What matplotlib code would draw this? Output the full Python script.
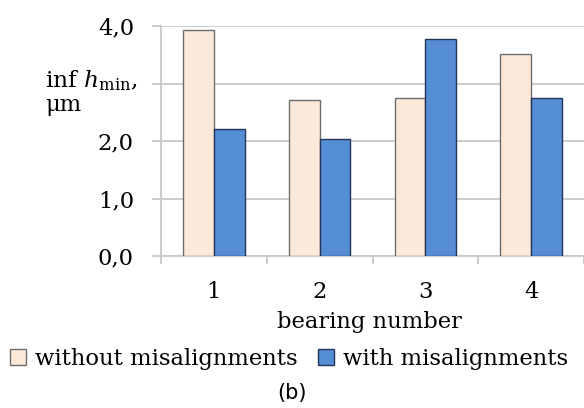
import numpy as np
import matplotlib.pyplot as plt
from matplotlib.patches import Patch

# bearing numbers and min film thickness values, um
bearings = ['1', '2', '3', '4']
without_mis = [3.93, 2.71, 2.75, 3.52]
with_mis = [2.21, 2.03, 3.77, 2.74]
yticks = [0.0, 1.0, 2.0, 3.0, 4.0]
ytick_labels = ['0,0', '1,0', '2,0', '', '4,0']

plt.rcParams['font.family'] = 'DejaVu Serif'
plt.rcParams['mathtext.fontset'] = 'dejavuserif'

fs = 16.3
fig = plt.figure(figsize=(5.84, 4.08), dpi=100)
ax = fig.add_axes([161 / 584, 152 / 408, 423 / 584, 230 / 408])

x = np.arange(len(bearings))
w = 0.29
ax.bar(x - w / 2, without_mis, w, color='#fde9d9', edgecolor='#6e6e6e', linewidth=1, zorder=3)
ax.bar(x + w / 2, with_mis, w, color='#558ed5', edgecolor='#24345a', linewidth=1, zorder=3)

ax.set_xlim(-0.5, len(bearings) - 0.5)
ax.set_ylim(0, 4)
ax.set_yticks(yticks)
ax.set_yticklabels(ytick_labels, fontsize=fs)
ax.yaxis.grid(True, color='#c8c8c8', linewidth=1.3, zorder=0)
ax.tick_params(axis='y', length=6.5, color='#c8c8c8', width=1.3, pad=13)

# category ticks sit between the groups
ax.set_xticks(np.arange(len(bearings) + 1) - 0.5)
ax.set_xticklabels([])
ax.set_xticks(x, minor=True)
ax.set_xticklabels(bearings, minor=True, fontsize=fs)
ax.tick_params(axis='x', which='major', length=6, color='#c8c8c8', width=1.3)
ax.tick_params(axis='x', which='minor', length=0, pad=18)

for s in ['top', 'right']:
    ax.spines[s].set_visible(False)
ax.spines['left'].set_color('#c8c8c8')
ax.spines['bottom'].set_color('#c8c8c8')
ax.spines['left'].set_linewidth(1.3)
ax.spines['bottom'].set_linewidth(1.3)

fig.text(45 / 584, 1 - 87 / 408, r'inf $h_{\mathrm{min}}$,', fontsize=fs + 0.5, va='baseline', ha='left')
fig.text(45 / 584, 1 - 111 / 408, 'μm', fontsize=fs, va='baseline', ha='left')
fig.text(369 / 584, 1 - 322 / 408, 'bearing number', fontsize=fs, va='center', ha='center')

handles = [Patch(facecolor='#fde9d9', edgecolor='#6e6e6e', label='without misalignments'),
           Patch(facecolor='#558ed5', edgecolor='#24345a', label='with misalignments')]
fig.legend(handles=handles, loc='center', bbox_to_anchor=(289 / 584, 1 - 359 / 408), ncol=2,
           frameon=False, fontsize=fs, handlelength=0.7, handleheight=0.7,
           handletextpad=0.4, columnspacing=0.9)

fig.text(292 / 584, 1 - 393 / 408, '(b)', fontsize=15, family='DejaVu Sans', va='center', ha='center')

fig.savefig('out.png', dpi=100)
